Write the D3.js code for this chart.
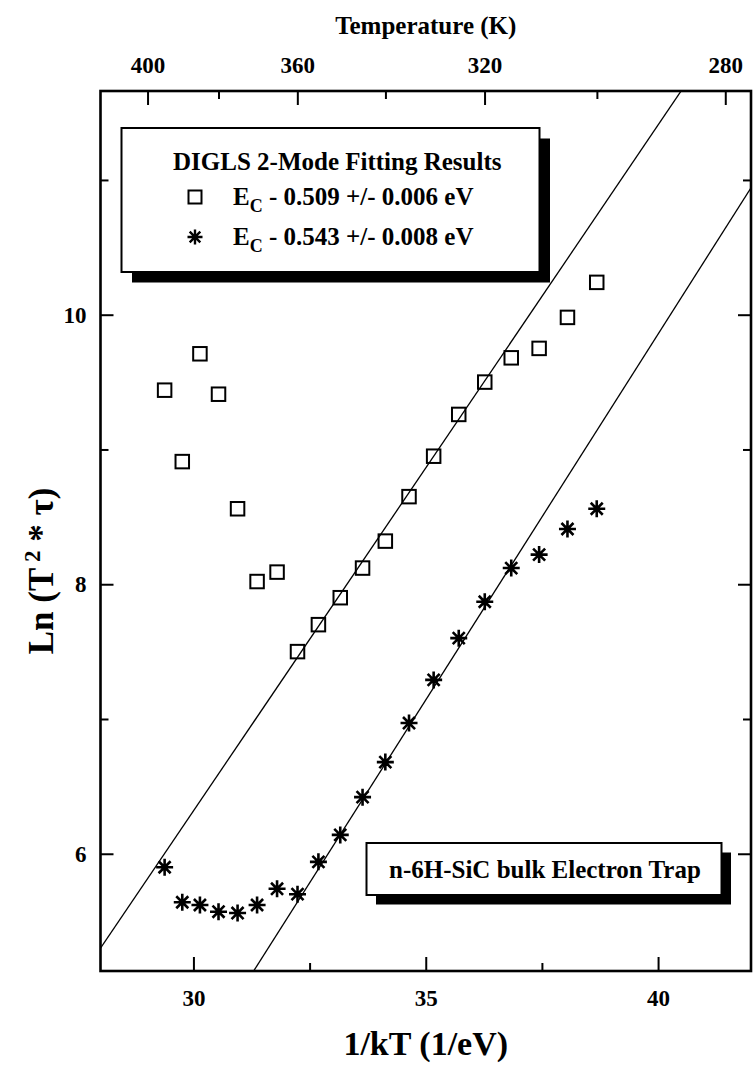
<!DOCTYPE html>
<html>
<head>
<meta charset="utf-8">
<script src="https://cdn.jsdelivr.net/npm/d3@7"></script>
<style>
  html, body { margin: 0; padding: 0; background: #fff; }
  svg text { font-family: "Liberation Serif", "Times New Roman", serif; font-weight: bold; fill: #000; }
  .tick-label text { font-size: 23px; }
</style>
</head>
<body>
<svg id="chart" width="755" height="1068"></svg>
<script>
// Measurement points, 395 K down to 300 K in 5 K steps, as 1/kT (1/eV)
const invKT = [29.38, 29.76, 30.14, 30.54, 30.95, 31.37, 31.80, 32.24, 32.69, 33.16,
               33.64, 34.13, 34.64, 35.17, 35.71, 36.27, 36.84, 37.44, 38.05, 38.68];
// Ln(T^2 * tau) for the two emission modes
const lnSquare = [9.44, 8.91, 9.71, 9.41, 8.56, 8.02, 8.09, 7.50, 7.70, 7.90,
                  8.12, 8.32, 8.65, 8.95, 9.26, 9.50, 9.68, 9.75, 9.98, 10.24];
const lnStar = [5.90, 5.64, 5.62, 5.57, 5.56, 5.62, 5.74, 5.70, 5.94, 6.14,
                6.42, 6.68, 6.97, 7.29, 7.60, 7.87, 8.12, 8.22, 8.41, 8.56];
// Arrhenius fits: slope = activation energy (eV), intercept taken at 1/kT = 28
const fitEnergy = [0.509, 0.543];
const fitAt28 = [5.30, 3.34];
const legendLabels = ["0.509 +/- 0.006 eV", "0.543 +/- 0.008 eV"];

const xDomain = [28, 42];
const yDomain = [5.13, 11.66];
const xTicksMajor = [30, 35, 40];
const xTicksMinor = [32.5, 37.5];
const yTicksMajor = [6, 8, 10];
const yTicksMinor = [7, 9, 11];
const tempMajor = [400, 360, 320, 280];
const tempMinor = [380, 340, 300];
const kB = 8.617e-5; // eV/K

const svg = d3.select("#chart");
const plot = { left: 100.5, right: 751, top: 91, bottom: 971 };

const x = d3.scaleLinear().domain(xDomain).range([plot.left, plot.right]);
const y = d3.scaleLinear().domain(yDomain).range([plot.bottom, plot.top]);

svg.append("defs").append("clipPath").attr("id", "plotClip")
  .append("rect")
  .attr("x", plot.left).attr("y", plot.top)
  .attr("width", plot.right - plot.left).attr("height", plot.bottom - plot.top);

// ---- fit lines ----
const lineGen = d3.line().x(d => x(d[0])).y(d => y(d[1]));
const fits = svg.append("g").attr("clip-path", "url(#plotClip)");
fitEnergy.forEach((e, i) => {
  const pts = xDomain.map(v => [v, fitAt28[i] + e * (v - xDomain[0])]);
  fits.append("path").attr("d", lineGen(pts))
    .attr("fill", "none").attr("stroke", "#000").attr("stroke-width", 1.3);
});

// ---- markers ----
const sq = 13.5;
function starPath(cx, cy, r) {
  const d = r * Math.SQRT1_2;
  return `M${cx - r},${cy}L${cx + r},${cy}M${cx},${cy - r}L${cx},${cy + r}` +
         `M${cx - d},${cy - d}L${cx + d},${cy + d}M${cx - d},${cy + d}L${cx + d},${cy - d}`;
}

const marks = svg.append("g");
marks.selectAll("rect.sq").data(invKT.map((v, i) => [v, lnSquare[i]]))
  .join("rect").attr("class", "sq")
  .attr("x", d => x(d[0]) - sq / 2).attr("y", d => y(d[1]) - sq / 2)
  .attr("width", sq).attr("height", sq)
  .attr("fill", "none").attr("stroke", "#000").attr("stroke-width", 2);

marks.selectAll("path.st").data(invKT.map((v, i) => [v, lnStar[i]]))
  .join("path").attr("class", "st")
  .attr("d", d => starPath(x(d[0]), y(d[1]), 8.5))
  .attr("fill", "none").attr("stroke", "#000").attr("stroke-width", 2.6);

// ---- axes (ticks point inward on all four sides) ----
function styleAxis(g) {
  g.select(".domain").remove();
  g.selectAll(".tick line").attr("stroke", "#000").attr("stroke-width", 2);
  g.attr("font-family", null).attr("font-size", null);
}

// bottom
svg.append("g").attr("class", "tick-label").attr("transform", `translate(0,${plot.bottom})`)
  .call(d3.axisBottom(x).tickValues(xTicksMajor).tickSize(-14).tickSizeOuter(0)
        .tickPadding(19).tickFormat(d3.format("d")))
  .call(styleAxis);
svg.append("g").attr("transform", `translate(0,${plot.bottom})`)
  .call(d3.axisBottom(x).tickValues(xTicksMinor).tickSize(-8).tickSizeOuter(0).tickFormat(""))
  .call(styleAxis);

// top: temperature scale placed at 1/kT
svg.append("g").attr("class", "tick-label").attr("transform", `translate(0,${plot.top})`)
  .call(d3.axisTop(x).tickValues(tempMajor.map(T => 1 / (kB * T))).tickSize(-14).tickSizeOuter(0)
        .tickPadding(18).tickFormat(v => Math.round(1 / (kB * v))))
  .call(styleAxis);
svg.append("g").attr("transform", `translate(0,${plot.top})`)
  .call(d3.axisTop(x).tickValues(tempMinor.map(T => 1 / (kB * T))).tickSize(-8).tickSizeOuter(0).tickFormat(""))
  .call(styleAxis);

// left
svg.append("g").attr("class", "tick-label").attr("transform", `translate(${plot.left},0)`)
  .call(d3.axisLeft(y).tickValues(yTicksMajor).tickSize(-13).tickSizeOuter(0)
        .tickPadding(14).tickFormat(d3.format("d")))
  .call(styleAxis);
svg.append("g").attr("transform", `translate(${plot.left},0)`)
  .call(d3.axisLeft(y).tickValues(yTicksMinor).tickSize(-8).tickSizeOuter(0).tickFormat(""))
  .call(styleAxis);

// right
svg.append("g").attr("transform", `translate(${plot.right},0)`)
  .call(d3.axisRight(y).tickValues(yTicksMajor).tickSize(-13).tickSizeOuter(0).tickFormat(""))
  .call(styleAxis);
svg.append("g").attr("transform", `translate(${plot.right},0)`)
  .call(d3.axisRight(y).tickValues(yTicksMinor).tickSize(-8).tickSizeOuter(0).tickFormat(""))
  .call(styleAxis);

// ---- legend box ----
const leg = { x: 121.5, y: 128, w: 418, h: 144, sh: 10.5 };
svg.append("rect").attr("x", leg.x + leg.sh).attr("y", leg.y + leg.sh)
  .attr("width", leg.w).attr("height", leg.h).attr("fill", "#000");
svg.append("rect").attr("x", leg.x).attr("y", leg.y)
  .attr("width", leg.w).attr("height", leg.h)
  .attr("fill", "#fff").attr("stroke", "#000").attr("stroke-width", 2);

svg.append("text").attr("x", 173).attr("y", 170).attr("font-size", 25)
  .text("DIGLS 2-Mode Fitting Results");

const entryY = [197, 237];
svg.append("rect").attr("x", 195 - 6.5).attr("y", entryY[0] - 6.5).attr("width", 13).attr("height", 13)
  .attr("fill", "none").attr("stroke", "#000").attr("stroke-width", 2);
svg.append("path").attr("d", starPath(195, entryY[1], 7.5))
  .attr("fill", "none").attr("stroke", "#000").attr("stroke-width", 2.4);

legendLabels.forEach((lab, i) => {
  const t = svg.append("text").attr("x", 233).attr("y", entryY[i] + 8).attr("font-size", 25);
  t.append("tspan").text("E");
  t.append("tspan").attr("font-size", 18).attr("dy", 7).text("C");
  t.append("tspan").attr("dy", -7).text(" - " + lab);
});

// ---- sample label box ----
const sb = { x: 366.5, y: 843, w: 355, h: 52, sh: 9.5 };
svg.append("rect").attr("x", sb.x + sb.sh).attr("y", sb.y + sb.sh)
  .attr("width", sb.w).attr("height", sb.h).attr("fill", "#000");
svg.append("rect").attr("x", sb.x).attr("y", sb.y).attr("width", sb.w).attr("height", sb.h)
  .attr("fill", "#fff").attr("stroke", "#000").attr("stroke-width", 2);
svg.append("text").attr("x", 389).attr("y", 878).attr("font-size", 25)
  .text("n-6H-SiC bulk Electron Trap");

// ---- frame ----
svg.append("rect").attr("x", plot.left).attr("y", plot.top)
  .attr("width", plot.right - plot.left).attr("height", plot.bottom - plot.top)
  .attr("fill", "none").attr("stroke", "#000").attr("stroke-width", 2.6);

// ---- axis titles ----
svg.append("text").attr("x", (plot.left + plot.right) / 2).attr("y", 34)
  .attr("text-anchor", "middle").attr("font-size", 25).text("Temperature (K)");

svg.append("text").attr("x", (plot.left + plot.right) / 2).attr("y", 1055)
  .attr("text-anchor", "middle").attr("font-size", 34).text("1/kT (1/eV)");

const yt = svg.append("text")
  .attr("transform", `translate(53,${(plot.top + plot.bottom) / 2 + 40}) rotate(-90)`)
  .attr("text-anchor", "middle").attr("font-size", 35);
yt.append("tspan").text("Ln (T");
yt.append("tspan").attr("font-size", 23).attr("dy", -13).text(" 2");
yt.append("tspan").attr("dy", 13).text(" * \u03C4)");
</script>
</body>
</html>
